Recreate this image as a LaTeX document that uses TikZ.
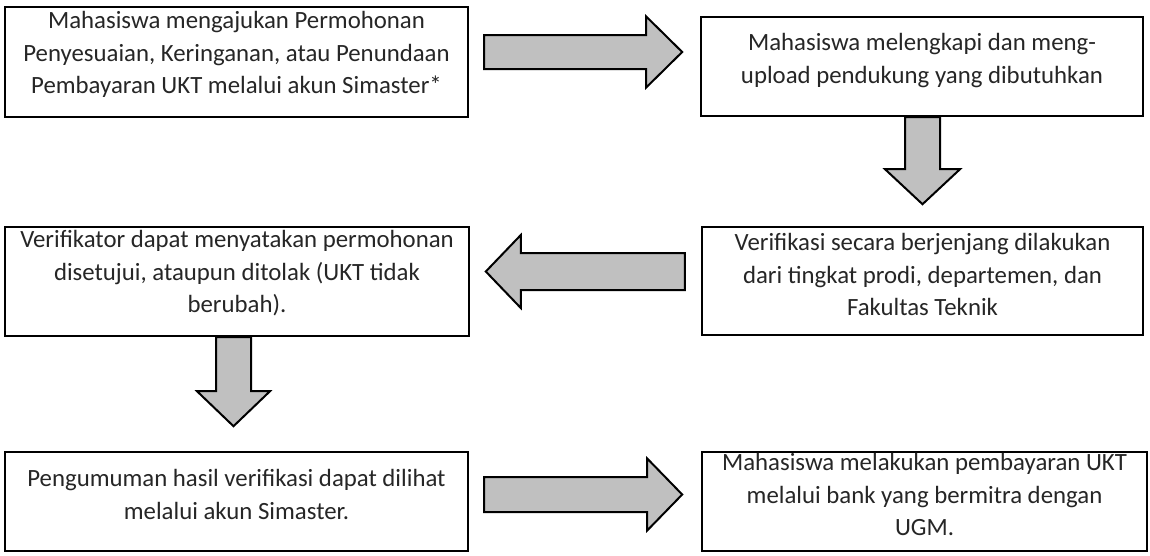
\documentclass[tikz,border=0pt]{standalone}
\usepackage{fontspec}
\setmainfont{Carlito}
\usetikzlibrary{calc}
\definecolor{arrowgray}{RGB}{192,192,192}
\tikzset{
  box/.style={draw=black, line width=2.4pt, fill=white, inner sep=0pt},
  txt/.style={align=center, inner sep=0pt, anchor=base, text=black!85,
    font=\fontsize{24.8}{32.5}\selectfont},
  % block arrow along +x: length / shaft width / head width / head length
  pics/blockarrow/.style args={#1/#2/#3/#4}{code={
    \draw[line width=2pt, fill=arrowgray, line join=miter]
      (0,-#2/2) -- (#1-#4,-#2/2) -- (#1-#4,-#3/2) -- (#1,0)
      -- (#1-#4,#3/2) -- (#1-#4,#2/2) -- (0,#2/2) -- cycle;}}
}
\begin{document}
\begin{tikzpicture}[x=1pt,y=-1pt]
\useasboundingbox (0,0) rectangle (1150,555);
\fill[white] (0,0) rectangle (1150,555);

% process boxes
\node[box, minimum width=463, minimum height=110] (b1) at (236.5,62) {};
\node[box, minimum width=442, minimum height=99]  (b2) at (922,66.5) {};
\node[box, minimum width=464, minimum height=109] (b3) at (237,281.5) {};
\node[box, minimum width=441, minimum height=108] (b4) at (922.5,281) {};
\node[box, minimum width=463, minimum height=99]  (b5) at (236.5,501.5) {};
\node[box, minimum width=445, minimum height=99]  (b6) at (924.5,501.5) {};

% box texts, placed by the baseline of their last line
\node[txt] (t1) at ($(b1.north)+(0,88)$) {Mahasiswa mengajukan Permohonan\\Penyesuaian, Keringanan, atau Penundaan\\Pembayaran UKT melalui akun Simaster*};
\node[txt] (t2) at ($(b2.north)+(0,67.5)$) {Mahasiswa melengkapi dan meng-\\upload pendukung yang dibutuhkan};
\node[txt] (t3) at ($(b3.north)+(0,87)$) {Verifikator dapat menyatakan permohonan\\disetujui, ataupun ditolak (UKT tidak\\berubah).};
\node[txt] (t4) at ($(b4.north)+(0,90)$) {Verifikasi secara berjenjang dilakukan\\dari tingkat prodi, departemen, dan\\Fakultas Teknik};
\node[txt] (t5) at ($(b5.north)+(0,68.5)$) {Pengumuman hasil verifikasi dapat dilihat\\melalui akun Simaster.};
\node[txt] (t6) at ($(b6.north)+(0,85)$) {Mahasiswa melakukan pembayaran UKT\\melalui bank yang bermitra dengan\\UGM.};

% block arrows between the boxes
\coordinate (a1) at ($(b1.east)+(15,-10)$);
\coordinate (a2) at ($(b2.south)+(0.5,0)$);
\coordinate (a3) at ($(b4.west)+(-16,-9.5)$);
\coordinate (a4) at ($(b3.south)+(-3.5,0)$);
\coordinate (a5) at ($(b5.east)+(15,-7)$);
\pic at (a1) {blockarrow=198/34/71/36};
\pic[rotate=-90] at (a2) {blockarrow=87/35/75/35};
\pic[rotate=180] at (a3) {blockarrow=199/37/73/35};
\pic[rotate=-90] at (a4) {blockarrow=89/35/73/35};
\pic at (a5) {blockarrow=198/35/72/35};
\end{tikzpicture}
\end{document}
